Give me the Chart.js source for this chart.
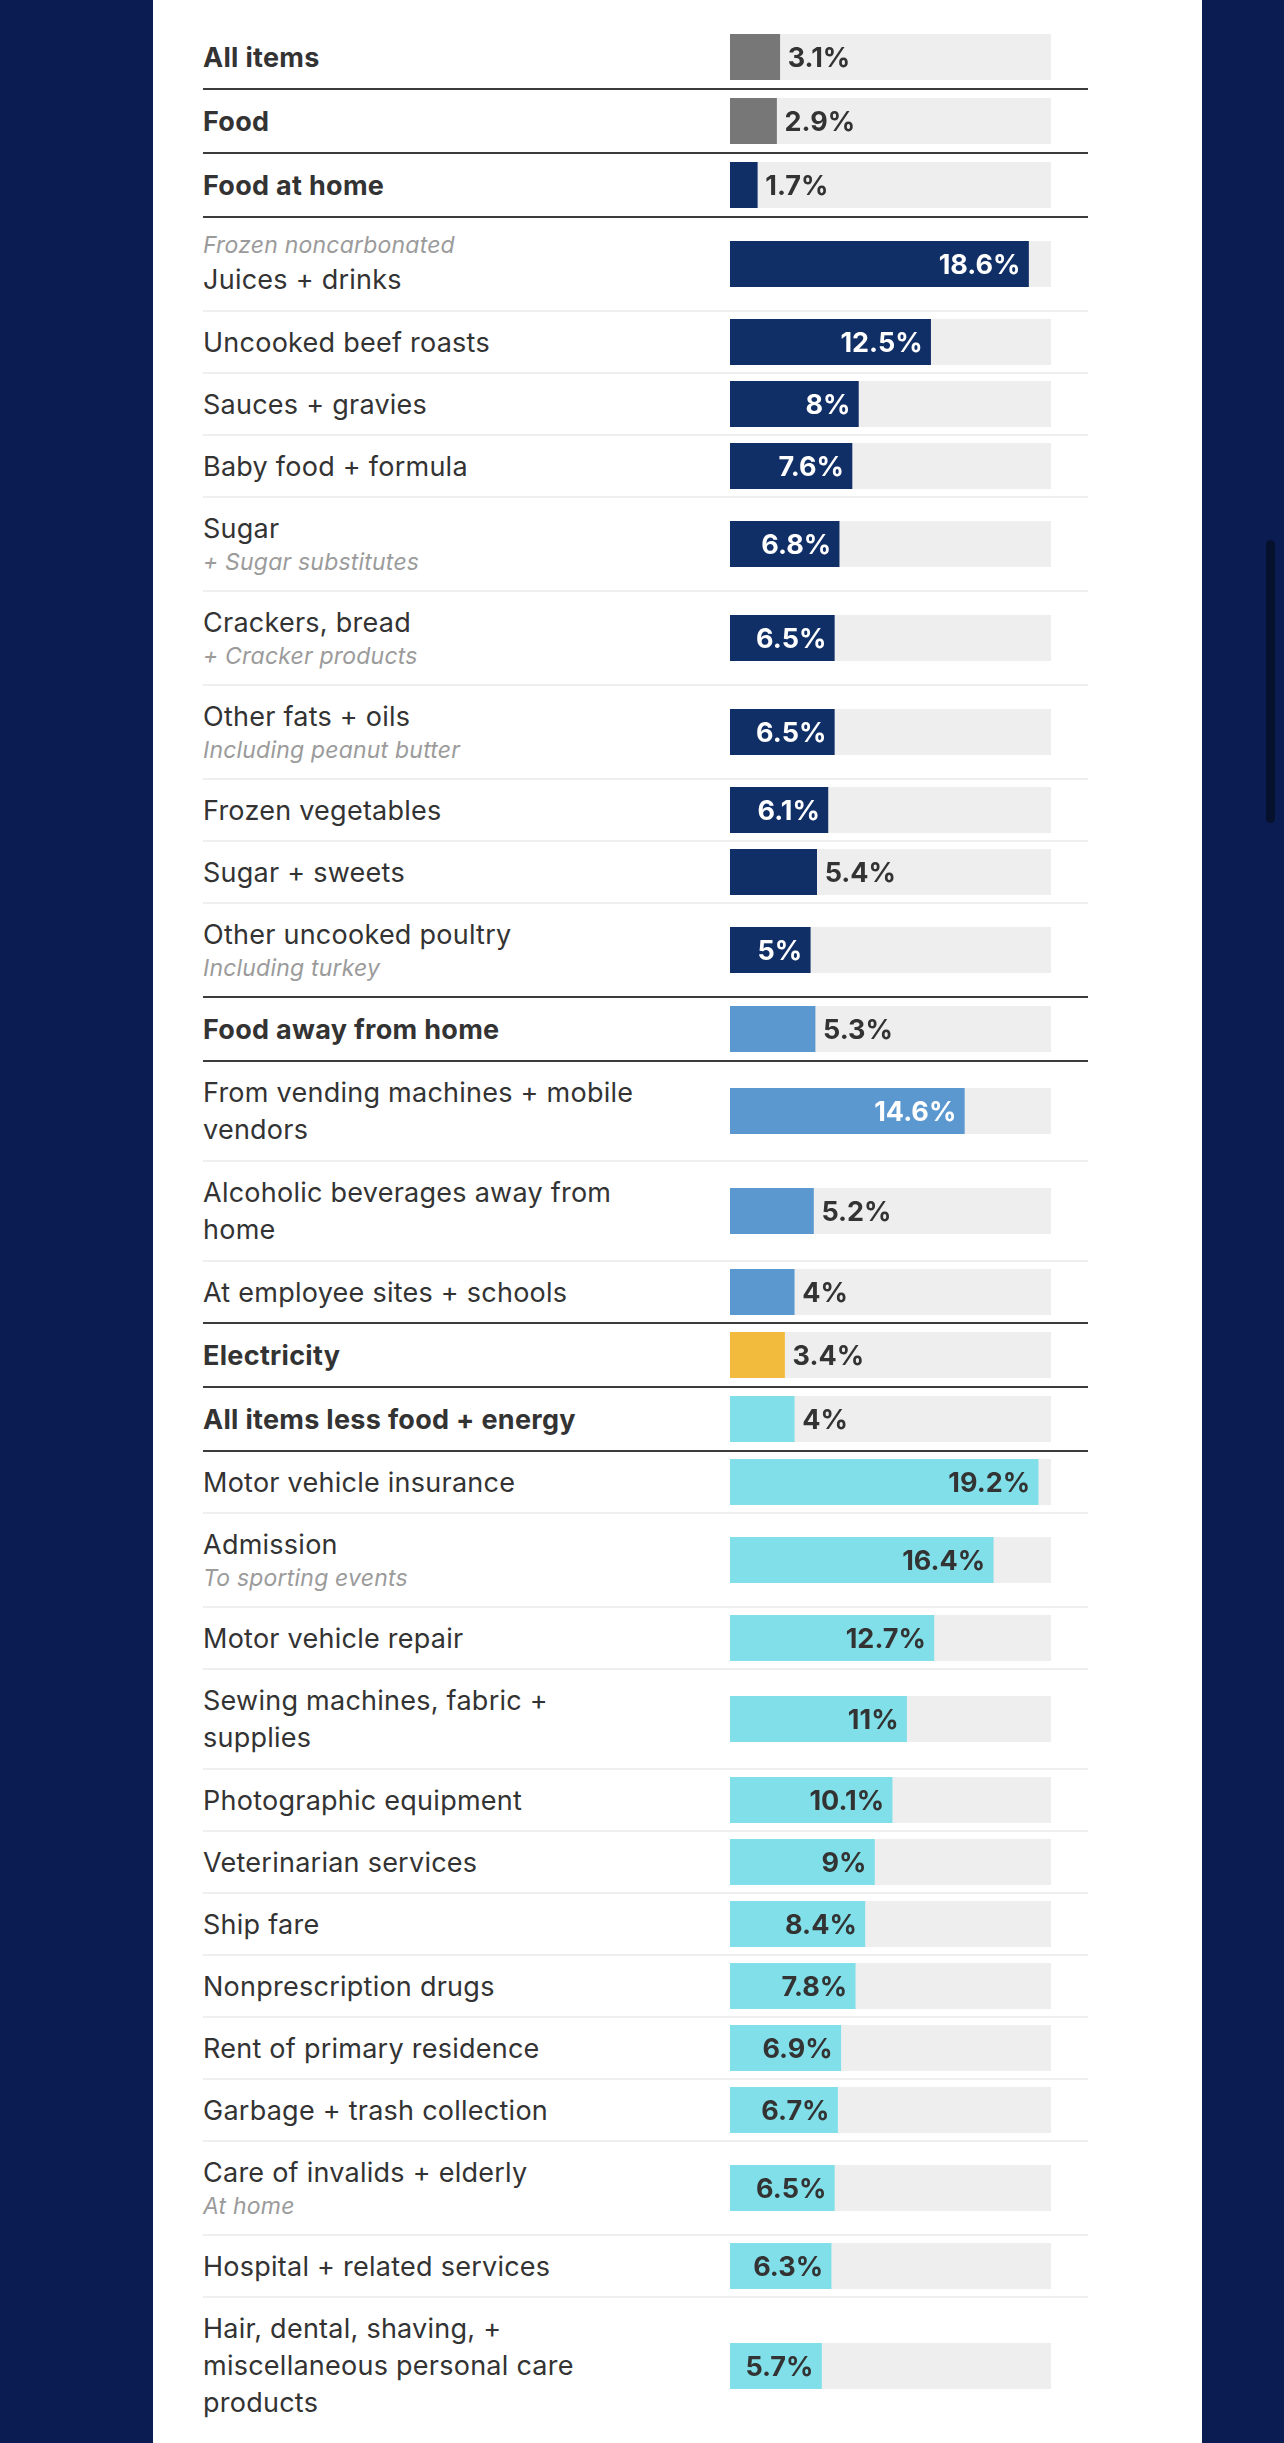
<!DOCTYPE html>
<html>
<head>
<meta charset="utf-8">
<script src="https://cdn.jsdelivr.net/npm/chart.js@4.4.1/dist/chart.umd.min.js"></script>
<style>
  html, body { margin: 0; padding: 0; }
  body { width: 1284px; height: 2443px; overflow: hidden; background: #0a1c51; position: relative;
         font-family: Inter, "Noto Sans", "Open Sans", sans-serif; }
  #panel { position: absolute; left: 153px; top: 0; width: 1049px; height: 2443px; background: #fff; }
  #rows { position: absolute; left: 50px; top: 26px; width: 885px; }
  .row { display: flex; box-sizing: border-box; border-bottom: 2px solid #efefef; }
  .row.dark { border-bottom-color: #3b3b3b; }
  .row.last { border-bottom-color: transparent; }
  .lab { width: 490px; display: flex; flex-direction: column; justify-content: center; }
  .main { font-size: 27px; line-height: 37px; color: #333; white-space: pre; letter-spacing: 0.25px; }
  .hdr .main { font-weight: 700; letter-spacing: 0.3px; }
  .note { font-size: 23px; line-height: 31px; color: #9b9b9b; font-style: italic; white-space: pre; letter-spacing: 0.2px; }
  .cell { width: 395px; display: flex; align-items: center; }
  .cell canvas { display: block; }
  #scroll { position: absolute; left: 1266px; top: 540px; width: 9px; height: 283px; border-radius: 5px; background: #06112e; }
</style>
</head>
<body>
<div id="panel"><div id="rows"></div></div>
<div id="scroll"></div>
<script>
// ---- data ----
const categories = [
  "All items", "Food", "Food at home",
  "Juices + drinks", "Uncooked beef roasts", "Sauces + gravies", "Baby food + formula",
  "Sugar", "Crackers, bread", "Other fats + oils", "Frozen vegetables", "Sugar + sweets",
  "Other uncooked poultry",
  "Food away from home",
  "From vending machines + mobile\nvendors", "Alcoholic beverages away from\nhome", "At employee sites + schools",
  "Electricity",
  "All items less food + energy",
  "Motor vehicle insurance", "Admission", "Motor vehicle repair", "Sewing machines, fabric +\nsupplies",
  "Photographic equipment", "Veterinarian services", "Ship fare", "Nonprescription drugs",
  "Rent of primary residence", "Garbage + trash collection", "Care of invalids + elderly",
  "Hospital + related services", "Hair, dental, shaving, +\nmiscellaneous personal care\nproducts"
];
const notes = [
  "", "", "",
  "Frozen noncarbonated", "", "", "",
  "+ Sugar substitutes", "+ Cracker products", "Including peanut butter", "", "",
  "Including turkey",
  "",
  "", "", "",
  "",
  "",
  "", "To sporting events", "", "",
  "", "", "", "",
  "", "", "At home",
  "", ""
];
const notesAbove = ["Juices + drinks"];
const values = [
  3.1, 2.9, 1.7,
  18.6, 12.5, 8, 7.6, 6.8, 6.5, 6.5, 6.1, 5.4, 5,
  5.3, 14.6, 5.2, 4,
  3.4,
  4, 19.2, 16.4, 12.7, 11, 10.1, 9, 8.4, 7.8, 6.9, 6.7, 6.5, 6.3, 5.7
];
const groups = [
  "all", "all",
  "home", "home", "home", "home", "home", "home", "home", "home", "home", "home", "home",
  "away", "away", "away", "away",
  "energy",
  "core", "core", "core", "core", "core", "core", "core", "core", "core", "core", "core", "core", "core", "core"
];
const headers = ["All items", "Food", "Food at home", "Food away from home", "Electricity", "All items less food + energy"];
const labelInside = [
  0, 0, 0,
  1, 1, 1, 1, 1, 1, 1, 1, 0, 1,
  0, 1, 0, 0,
  0,
  0, 1, 1, 1, 1, 1, 1, 1, 1, 1, 1, 1, 1, 1
];
const axisMax = 20;

// ---- styles ----
const barColors = { all: "#777777", home: "#112f67", away: "#5b98d0", energy: "#f2bb3e", core: "#80dfe8" };
const insideText = { all: "#ffffff", home: "#ffffff", away: "#ffffff", energy: "#333333", core: "#333333" };
const FONT = "Inter, 'Noto Sans', sans-serif";

const valueLabelPlugin = {
  id: "valueLabel",
  afterDatasetsDraw(chart, args, opts) {
    const bar = chart.getDatasetMeta(0).data[0];
    if (!bar) return;
    const ctx = chart.ctx;
    ctx.save();
    ctx.font = "700 27px " + FONT;
    ctx.textBaseline = "alphabetic";
    const y = bar.y + 10;
    if (opts.inside) {
      ctx.textAlign = "right";
      ctx.fillStyle = opts.insideColor;
      ctx.fillText(opts.text, bar.x - 8, y);
    } else {
      ctx.textAlign = "left";
      ctx.fillStyle = "#333333";
      ctx.fillText(opts.text, bar.x + 8, y);
    }
    ctx.restore();
  }
};

const rowsEl = document.getElementById("rows");
categories.forEach((cat, i) => {
  const isHdr = headers.includes(cat);
  const nextHdr = i + 1 < categories.length && headers.includes(categories[i + 1]);
  const lines = cat.split("\n").length;
  const note = notes[i];
  let h;
  if (isHdr) h = 64;
  else if (note) h = lines * 37 + 31 + 26;
  else if (lines > 1) h = lines * 37 + 26;
  else h = 62;

  const row = document.createElement("div");
  row.className = "row" + (isHdr ? " hdr" : "") + ((isHdr || nextHdr) ? " dark" : "") + (i === categories.length - 1 ? " last" : "");
  row.style.height = h + "px";

  const lab = document.createElement("div");
  lab.className = "lab";
  const m = document.createElement("div");
  m.className = "main";
  m.textContent = cat;
  if (note) {
    const n = document.createElement("div");
    n.className = "note";
    n.textContent = note;
    if (notesAbove.includes(cat)) { lab.appendChild(n); lab.appendChild(m); }
    else { lab.appendChild(m); lab.appendChild(n); }
  } else {
    lab.appendChild(m);
  }
  row.appendChild(lab);

  const cell = document.createElement("div");
  cell.className = "cell";
  const cv = document.createElement("canvas");
  cv.width = 395; cv.height = 46;
  cv.style.width = "395px"; cv.style.height = "46px";
  cell.appendChild(cv);
  row.appendChild(cell);
  rowsEl.appendChild(row);

  const g = groups[i];
  new Chart(cv, {
    type: "bar",
    data: {
      labels: [cat],
      datasets: [
        { data: [values[i]], backgroundColor: barColors[g], borderWidth: 0, grouped: false, order: 0 },
        { data: [axisMax], backgroundColor: "#eeeeee", borderWidth: 0, grouped: false, order: 1 }
      ]
    },
    options: {
      indexAxis: "y",
      responsive: false,
      animation: false,
      devicePixelRatio: 1,
      layout: { padding: { left: 37, right: 37, top: 0, bottom: 0 } },
      datasets: { bar: { barPercentage: 1, categoryPercentage: 1 } },
      scales: {
        x: { min: 0, max: axisMax, display: false },
        y: { display: false }
      },
      plugins: {
        legend: { display: false },
        tooltip: { enabled: false },
        valueLabel: { text: values[i] + "%", inside: !!labelInside[i], insideColor: insideText[g] }
      },
      events: []
    },
    plugins: [valueLabelPlugin]
  });
});
</script>
</body>
</html>
